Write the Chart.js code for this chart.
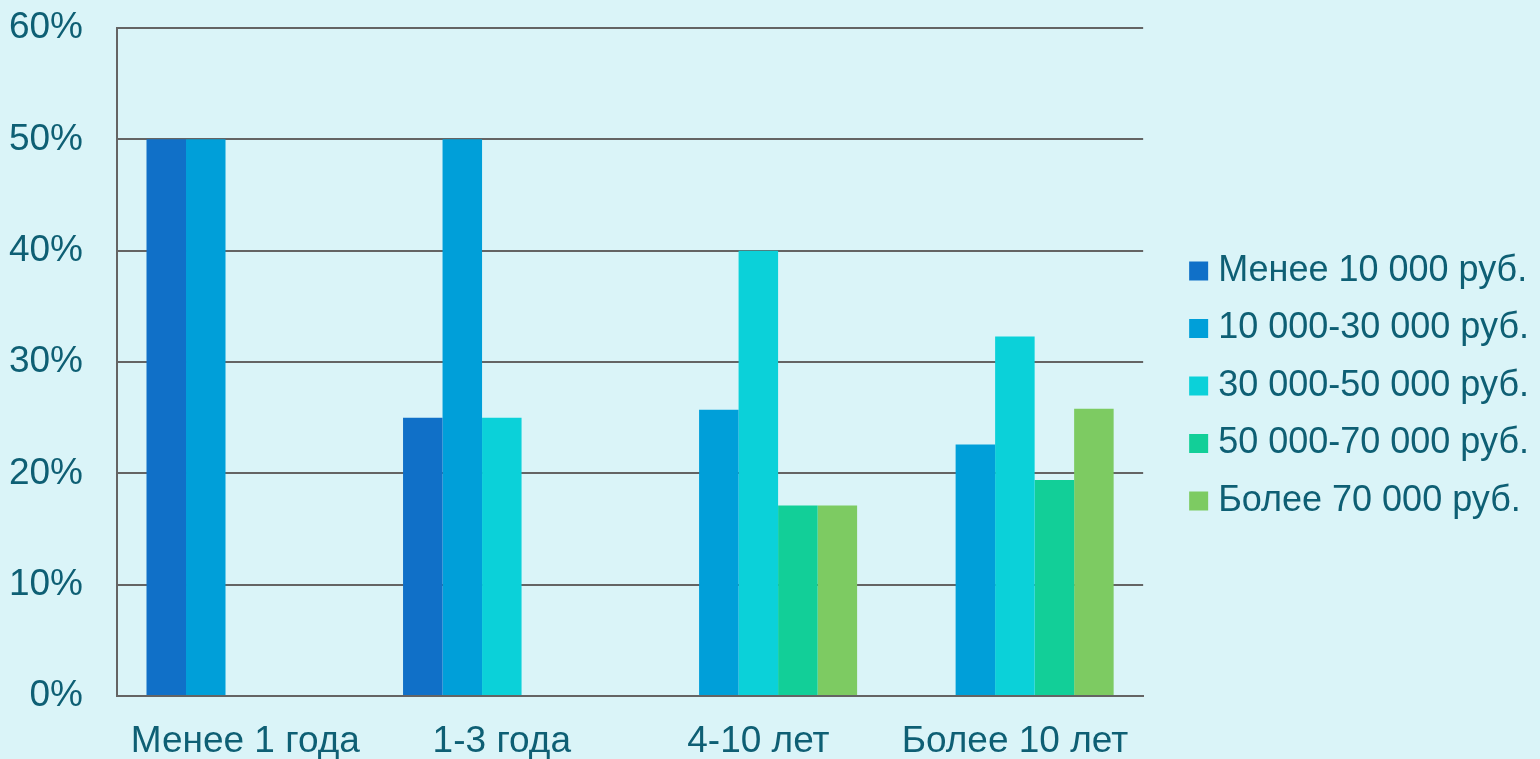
<!DOCTYPE html>
<html lang="ru">
<head>
<meta charset="utf-8">
<title>Распределение по стажу и доходу</title>
<script src="https://cdn.jsdelivr.net/npm/chart.js@4.4.1/dist/chart.umd.min.js"></script>
<style>
  html, body { margin: 0; padding: 0; background: #DAF4F8; }
  #wrap { width: 1540px; height: 759px; position: relative; }
</style>
</head>
<body>
<div id="wrap"><canvas id="chart" width="1540" height="759"></canvas></div>
<script>
// Стаж работы (категории по оси X)
const categories = ['Менее 1 года', '1-3 года', '4-10 лет', 'Более 10 лет'];

// Доля респондентов, %, по уровням дохода
const seriesNames = [
  'Менее 10 000 руб.',
  '10 000-30 000 руб.',
  '30 000-50 000 руб.',
  '50 000-70 000 руб.',
  'Более 70 000 руб.'
];
const incomeUnder10k  = [50, 25, 0, 0];
const income10to30k   = [50, 50, 25.7, 22.6];
const income30to50k   = [0, 25, 40, 32.3];
const income50to70k   = [0, 0, 17.1, 19.4];
const incomeOver70k   = [0, 0, 17.1, 25.8];

// Деления оси Y
const yTicks = [0, 10, 20, 30, 40, 50, 60];

const seriesValues = [incomeUnder10k, income10to30k, income30to50k, income50to70k, incomeOver70k];
const seriesColors = ['#1070C8', '#009FD9', '#0BD1D9', '#12CF98', '#7DCB62'];

const textColor = '#0E5F74';
const gridColor = '#646464';
const fontFamily = '"Liberation Sans", Arial, sans-serif';

const datasets = seriesNames.map((name, i) => ({
  label: name,
  data: seriesValues[i],
  backgroundColor: seriesColors[i],
  borderWidth: 0,
  pointStyle: 'rect'
}));

// Отодвигает легенду от области графика после раскладки
const legendOffset = {
  id: 'legendOffset',
  afterUpdate(chart, args, opts) {
    const lg = chart.legend;
    if (!lg) return;
    lg.left += opts.dx; lg.right += opts.dx;
    lg.top += opts.dy; lg.bottom += opts.dy;
  }
};

new Chart(document.getElementById('chart'), {
  type: 'bar',
  data: { labels: categories, datasets },
  plugins: [legendOffset],
  options: {
    responsive: false,
    animation: false,
    devicePixelRatio: 1,
    categoryPercentage: 0.77,
    barPercentage: 1.0,
    layout: { padding: { top: 0, right: 33.5, bottom: 0, left: 0 } },
    plugins: {
      tooltip: { enabled: false },
      legendOffset: { dx: 32.5, dy: 6.5 },
      legend: {
        position: 'right',
        align: 'center',
        labels: {
          usePointStyle: true,
          boxWidth: 3,
          boxHeight: 19,
          padding: 21.5,
          color: textColor,
          font: { family: fontFamily, size: 36 }
        }
      }
    },
    scales: {
      x: {
        grid: { display: false, drawTicks: false },
        border: { display: true, color: gridColor, width: 2 },
        ticks: {
          color: textColor,
          padding: 24,
          maxRotation: 0,
          autoSkip: false,
          font: { family: fontFamily, size: 37 }
        },
        afterFit: (scale) => { scale.height = 63; }
      },
      y: {
        min: 0,
        max: 60,
        afterBuildTicks: (scale) => { scale.ticks = yTicks.map(v => ({ value: v })); },
        grid: { color: gridColor, lineWidth: 2, drawTicks: false },
        border: { display: true, color: gridColor, width: 2 },
        ticks: {
          color: textColor,
          padding: 34,
          font: { family: fontFamily, size: 37 },
          callback: (v) => v + '%'
        },
        afterFit: (scale) => {
          scale.width = 117;
          scale.paddingTop = 28;
          scale.paddingBottom = 0;
        }
      }
    }
  }
});
</script>
</body>
</html>
